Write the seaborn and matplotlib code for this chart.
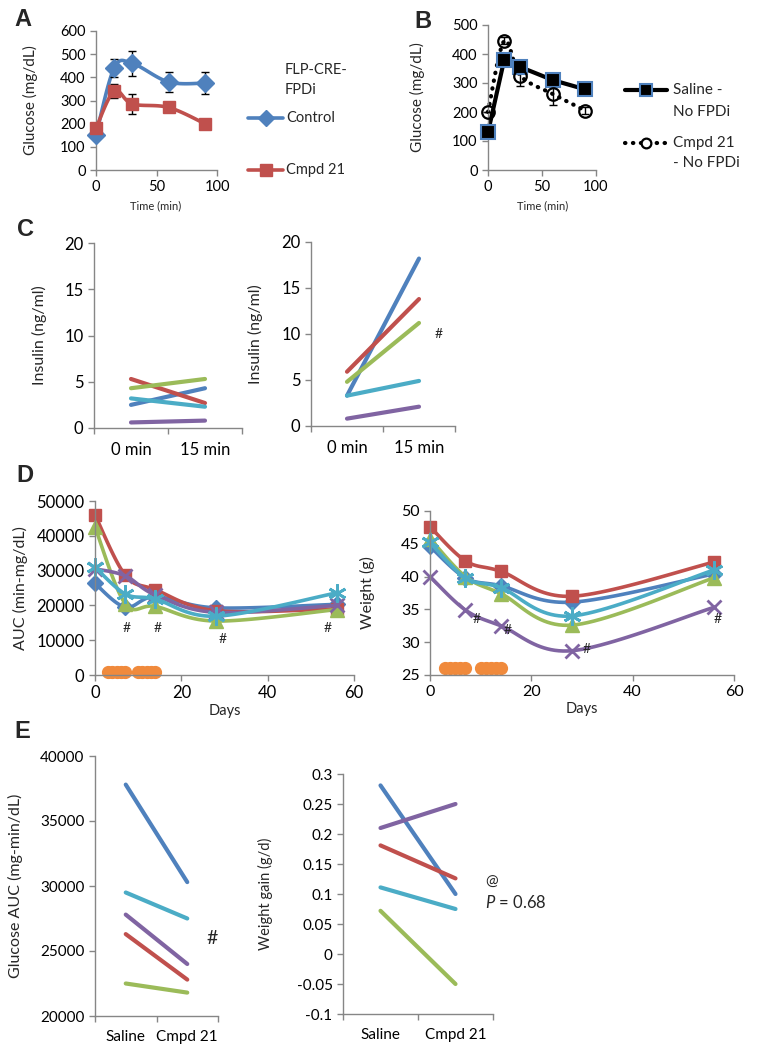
import numpy as np
import pandas as pd
import matplotlib
matplotlib.use("Agg")
import matplotlib.pyplot as plt
import seaborn as sns
from matplotlib.lines import Line2D
from matplotlib.ticker import FuncFormatter

sns.set_style("ticks")
plt.rcParams["font.family"] = ["Lato", "DejaVu Sans"]
plt.rcParams["mathtext.fontset"] = "custom"
plt.rcParams["mathtext.it"] = "Lato:italic"
plt.rcParams["mathtext.rm"] = "Lato"

# ---------------- data ----------------
time_ab = [0, 15, 30, 60, 90]
a_control = [150, 440, 460, 380, 375]
a_control_err = [0, 40, 55, 42, 48]
a_cmpd = [180, 340, 285, 270, 200]
a_cmpd_err = [0, 30, 45, 0, 0]
b_saline = [130, 380, 355, 310, 278]
b_saline_err = [0, 0, 0, 0, 20]
b_cmpd = [200, 445, 325, 262, 205]
b_cmpd_err = [0, 12, 35, 37, 13]

c_labels = ["0 min", "15 min"]
mice = ["m1", "m2", "m3", "m4", "m5"]  # blue, red, green, aqua, purple
c_left_blue = [2.5, 4.3]
c_left_red = [5.3, 2.7]
c_left_green = [4.3, 5.3]
c_left_aqua = [3.2, 2.3]
c_left_purple = [0.6, 0.8]
c_right_blue = [3.3, 18.2]
c_right_red = [5.9, 13.8]
c_right_green = [4.8, 11.2]
c_right_aqua = [3.3, 4.9]
c_right_purple = [0.8, 2.1]

days = [0, 7, 14, 28, 56]
auc_blue = [26300, 19500, 22500, 19300, 20300]
auc_red = [46000, 28700, 24500, 18500, 19000]
auc_green = [42500, 20500, 19700, 15500, 18800]
auc_purple = [30500, 28500, 23000, 18000, 20000]
auc_aqua = [31000, 23300, 21800, 16900, 23600]
wt_blue = [44.6, 39.8, 38.6, 36.1, 40.4]
wt_red = [47.6, 42.4, 40.8, 37.0, 42.2]
wt_green = [45.8, 40.0, 37.4, 32.6, 39.8]
wt_purple = [40.0, 34.9, 32.5, 28.7, 35.3]
wt_aqua = [45.2, 39.8, 38.3, 34.0, 41.0]
dose_days = [3, 4, 5, 6, 7, 10, 11, 12, 13, 14]

e_labels = ["Saline", "Cmpd 21"]
e_auc_blue = [37800, 30300]
e_auc_aqua = [29500, 27500]
e_auc_purple = [27800, 24000]
e_auc_red = [26300, 22800]
e_auc_green = [22500, 21800]
e_gain_blue = [0.281, 0.100]
e_gain_purple = [0.210, 0.250]
e_gain_red = [0.181, 0.126]
e_gain_aqua = [0.111, 0.075]
e_gain_green = [0.072, -0.050]

BLUE, RED, GREEN, PURPLE, AQUA, ORANGE = "#4F81BD", "#C0504D", "#9BBB59", "#8064A2", "#4BACC6", "#F08A3C"
GRAY = "#868686"

W, H = 764, 1061
fig = plt.figure(figsize=(W / 100, H / 100), dpi=100)


def add_ax(x0, x1, y0, y1):
    return fig.add_axes([x0 / W, 1 - y1 / H, (x1 - x0) / W, (y1 - y0) / H])


def style(ax, fs):
    sns.despine(ax=ax)
    for s in ["left", "bottom"]:
        ax.spines[s].set_color(GRAY)
        ax.spines[s].set_linewidth(1.0)
    ax.tick_params(axis="both", which="major", colors=GRAY, length=4, width=1,
                   labelcolor="black", labelsize=fs, direction="out")
    ax.set_facecolor("none")


def ylab_at(ax, text, xpix, fs, x0, x1):
    ax.set_ylabel(text, fontsize=fs)
    ax.yaxis.set_label_coords((xpix - x0) / (x1 - x0), 0.5)


def smooth(x, y, sx, sy, n=24):
    P = np.column_stack([np.asarray(x, float) * sx, np.asarray(y, float) * sy])
    out = []
    for i in range(len(P) - 1):
        p0 = P[i - 1] if i > 0 else P[i]
        p1, p2 = P[i], P[i + 1]
        p3 = P[i + 2] if i + 2 < len(P) else P[i + 1]
        c1 = p1 + (p2 - p0) / 6
        c2 = p2 - (p3 - p1) / 6
        t = np.linspace(0, 1, n)[:, None]
        seg = (1 - t) ** 3 * p1 + 3 * (1 - t) ** 2 * t * c1 + 3 * (1 - t) * t ** 2 * c2 + t ** 3 * p2
        out.append(seg if i == 0 else seg[1:])
    S = np.vstack(out)
    return S[:, 0] / sx, S[:, 1] / sy


def cat_axis(ax, labels, fs):
    ax.set_xlim(-0.5, 1.5)
    ax.set_xticks([-0.5, 0.5, 1.5])
    ax.set_xticklabels([])
    ax.set_xticks([0, 1], minor=True)
    ax.set_xticklabels(labels, minor=True, fontsize=fs)
    ax.tick_params(axis="x", which="minor", length=0, pad=10, labelcolor="black")
    ax.set_xlabel("")


def pair_lines(ax, labels, series, colors):
    rows = []
    for name, vals in series.items():
        for lab, v in zip(labels, vals):
            rows.append({"group": lab, "value": v, "mouse": name})
    df = pd.DataFrame(rows)
    sns.lineplot(data=df, x="group", y="value", hue="mouse", palette=colors,
                 legend=False, linewidth=3, sort=False, ax=ax,
                 solid_capstyle="round")


# ---------------- Panel A ----------------
ax = add_ax(96, 217, 31, 170)
style(ax, 10.5)
sx, sy = 121 / 100, 139 / 600
xs, ys = smooth(time_ab, a_control, sx, sy)
ax.plot(xs, ys, color=BLUE, lw=2.6, zorder=2)
xs, ys = smooth(time_ab, a_cmpd, sx, sy)
ax.plot(xs, ys, color=RED, lw=2.6, zorder=3)
ax.errorbar(time_ab, a_control, yerr=a_control_err, fmt="none", ecolor="black", elinewidth=1, capsize=3, zorder=4)
ax.errorbar(time_ab, a_cmpd, yerr=a_cmpd_err, fmt="none", ecolor="black", elinewidth=1, capsize=3, zorder=4)
ax.plot(time_ab, a_control, ls="none", marker="D", ms=9, color=BLUE, zorder=5)
ax.plot(time_ab, a_cmpd, ls="none", marker="s", ms=9, color=RED, zorder=6)
ax.set_xlim(0, 100)
ax.set_ylim(0, 600)
ax.set_xticks([0, 50, 100])
ax.set_yticks(range(0, 601, 100))
ylab_at(ax, "Glucose (mg/dL)", 38, 11, 96, 217)
for art in ax.lines:
    art.set_clip_on(False)
fig.text(156 / W, 1 - 206 / H, "Time (min)", fontsize=8, ha="center", va="center")

# legend A
fig.text(285 / W, 1 - 70 / H, "FLP-CRE-", fontsize=10.5, va="center")
fig.text(285 / W, 1 - 90 / H, "FPDi", fontsize=10.5, va="center")
for yp, col, mk, lab in [(118, BLUE, "D", "Control"), (170, RED, "s", "Cmpd 21")]:
    fig.add_artist(Line2D([248 / W, 265.5 / W, 283 / W], [1 - yp / H] * 3, color=col, lw=2.6,
                          marker=mk, ms=8, markevery=[1], transform=fig.transFigure))
    fig.text(286 / W, 1 - yp / H, lab, fontsize=10.5, va="center")

# ---------------- Panel B ----------------
ax = add_ax(488, 596, 25, 170)
style(ax, 10.5)
sx, sy = 108 / 100, 145 / 500
ax.plot(time_ab, b_saline, color="black", lw=3, zorder=2)
xs, ys = smooth(time_ab, b_cmpd, sx, sy)
ax.plot(xs, ys, color="black", lw=3, ls=(0, (0.1, 1.8)), dash_capstyle="round", zorder=2)
ax.errorbar(time_ab, b_saline, yerr=b_saline_err, fmt="none", ecolor="black", elinewidth=1, capsize=3, zorder=4)
ax.errorbar(time_ab, b_cmpd, yerr=b_cmpd_err, fmt="none", ecolor="black", elinewidth=1, capsize=3, zorder=4)
ax.plot(time_ab, b_saline, ls="none", marker="s", ms=10.5, mfc="black", mec=BLUE, mew=1.5, zorder=5)
ax.plot(time_ab, b_cmpd, ls="none", marker="o", ms=9, mfc="none", mec="black", mew=1.6, zorder=6)
ax.set_xlim(0, 100)
ax.set_ylim(0, 500)
ax.set_xticks([0, 50, 100])
ax.set_yticks(range(0, 501, 100))
ylab_at(ax, "Glucose (mg/dL)", 425, 11, 488, 596)
for art in ax.lines:
    art.set_clip_on(False)
fig.text(543 / W, 1 - 206 / H, "Time (min)", fontsize=8, ha="center", va="center")

# legend B
fig.add_artist(Line2D([625 / W, 646 / W, 667 / W], [1 - 90 / H] * 3, color="black", lw=3,
                      marker="s", ms=8, mfc="black", mec=BLUE, mew=1.5, markevery=[1],
                      transform=fig.transFigure))
fig.add_artist(Line2D([625 / W, 646 / W, 667 / W], [1 - 143 / H] * 3, color="black", lw=3,
                      ls=(0, (0.1, 1.8)), dash_capstyle="round",
                      marker="o", ms=7, mfc="white", mec="black", mew=1.6, markevery=[1],
                      transform=fig.transFigure))
for yp, t in [(90, "Saline -"), (112, "No FPDi"), (143, "Cmpd 21"), (163, "- No FPDi")]:
    fig.text(673 / W, 1 - yp / H, t, fontsize=11, va="center")

# ---------------- Panel C ----------------
c_colors = {"m1": BLUE, "m2": RED, "m3": GREEN, "m4": AQUA, "m5": PURPLE}
ax = add_ax(94, 242, 243, 428)
style(ax, 12)
pair_lines(ax, c_labels, {"m1": c_left_blue, "m2": c_left_red, "m3": c_left_green,
                          "m4": c_left_aqua, "m5": c_left_purple}, c_colors)
ax.set_ylim(0, 20)
ax.set_yticks([0, 5, 10, 15, 20])
cat_axis(ax, c_labels, 12)
ylab_at(ax, "Insulin (ng/ml)", 47, 11.5, 94, 242)

ax = add_ax(311, 455, 242, 426)
style(ax, 12)
pair_lines(ax, c_labels, {"m1": c_right_blue, "m2": c_right_red, "m3": c_right_green,
                          "m4": c_right_aqua, "m5": c_right_purple}, c_colors)
ax.set_ylim(0, 20)
ax.set_yticks([0, 5, 10, 15, 20])
cat_axis(ax, c_labels, 12)
ylab_at(ax, "Insulin (ng/ml)", 263, 11.5, 311, 455)
ax.text(1.27, 10, "#", fontsize=10, ha="center", va="center")

# ---------------- Panel D ----------------
d_specs = [(BLUE, "D", 8, 0), (RED, "s", 9, 0), (GREEN, "^", 10, 0), (PURPLE, "x", 10, 2), (AQUA, (6, 2, 0), 13, 2)]

ax = add_ax(95, 354, 501, 675)
style(ax, 12)
sx, sy = 259 / 60, 174 / 50000
for (col, mk, ms, mew), vals in zip(d_specs, [auc_blue, auc_red, auc_green, auc_purple, auc_aqua]):
    xs, ys = smooth(days, vals, sx, sy)
    ax.plot(xs, ys, color=col, lw=2.6)
    kw = dict(mew=mew) if mew else {}
    ax.plot(days, vals, ls="none", marker=mk, ms=ms, color=col, **kw)
ax.plot(dose_days, [1000] * len(dose_days), ls="none", marker="o", ms=8.5, color=ORANGE)
ax.set_xlim(0, 60)
ax.set_ylim(0, 50000)
ax.set_xticks([0, 20, 40, 60])
ax.set_yticks(range(0, 50001, 10000))
ylab_at(ax, "AUC (min-mg/dL)", 28, 11.5, 95, 354)
ax.set_xlabel("Days", fontsize=10.5, labelpad=2)
for x, y in [(7.3, 13400), (14.4, 13400), (29.5, 10300), (53.9, 13400)]:
    ax.text(x, y, "#", fontsize=10, ha="center", va="center")
for art in ax.lines:
    art.set_clip_on(False)

ax = add_ax(430, 734, 511, 675)
style(ax, 11.5)
sx, sy = 304 / 60, 164 / 25
for (col, mk, ms, mew), vals in zip(d_specs, [wt_blue, wt_red, wt_green, wt_purple, wt_aqua]):
    xs, ys = smooth(days, vals, sx, sy)
    ax.plot(xs, ys, color=col, lw=2.6)
    kw = dict(mew=mew) if mew else {}
    ax.plot(days, vals, ls="none", marker=mk, ms=ms, color=col, **kw)
ax.plot(dose_days, [26] * len(dose_days), ls="none", marker="o", ms=8.5, color=ORANGE)
ax.set_xlim(0, 60)
ax.set_ylim(25, 50)
ax.set_xticks([0, 20, 40, 60])
ax.set_yticks(range(25, 51, 5))
ylab_at(ax, "Weight (g)", 375, 11.5, 430, 734)
ax.set_xlabel("Days", fontsize=10.5, labelpad=2)
for x, y in [(9.2, 33.6), (15.3, 31.9), (31.0, 29.0), (56.7, 33.6)]:
    ax.text(x, y, "#", fontsize=10, ha="center", va="center")
for art in ax.lines:
    art.set_clip_on(False)

# ---------------- Panel E ----------------
ax = add_ax(95, 218, 756, 1016)
style(ax, 11)
pair_lines(ax, e_labels, {"m1": e_auc_blue, "m4": e_auc_aqua, "m5": e_auc_purple,
                          "m2": e_auc_red, "m3": e_auc_green}, c_colors)
ax.set_ylim(20000, 40000)
ax.set_yticks(range(20000, 40001, 5000))
cat_axis(ax, e_labels, 11)
ylab_at(ax, "Glucose AUC (mg-min/dL)", 23, 11.5, 95, 218)
ax.text(1.40, 26000, "#", fontsize=14, ha="center", va="center")

ax = add_ax(343, 493, 774, 1014)
style(ax, 11)
pair_lines(ax, e_labels, {"m1": e_gain_blue, "m5": e_gain_purple, "m2": e_gain_red,
                          "m4": e_gain_aqua, "m3": e_gain_green}, c_colors)
ax.set_ylim(-0.1, 0.3)
ax.set_yticks(np.arange(-0.1, 0.30001, 0.05))
ax.yaxis.set_major_formatter(FuncFormatter(lambda v, p: "%g" % round(v, 2)))
cat_axis(ax, e_labels, 11)
ylab_at(ax, "Weight gain (g/d)", 273, 10.5, 343, 493)
fig.text(485 / W, 1 - 882 / H, "@", fontsize=11, ha="left", va="center")
fig.text(485 / W, 1 - 903 / H, r"$\mathit{P}$ = 0.68", fontsize=12, ha="left", va="center")

# panel letters
for x, y, t in [(23, 19, "A"), (423, 21, "B"), (26, 229, "C"), (25, 475, "D"), (22, 731, "E")]:
    fig.text(x / W, 1 - y / H, t, fontsize=17, fontweight="heavy", ha="center", va="center",
             family=["Liberation Sans", "DejaVu Sans"])

fig.savefig("out.png", dpi=100, facecolor="white")
